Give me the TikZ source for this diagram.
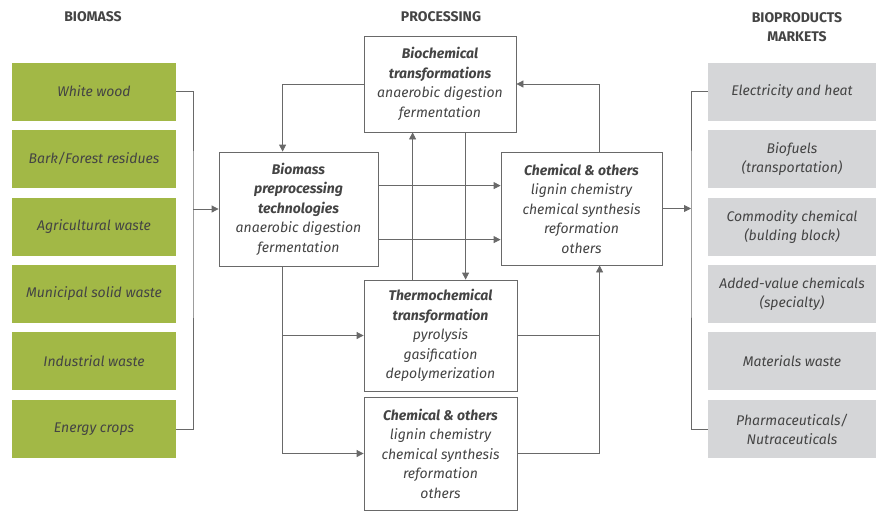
\documentclass[tikz,border=0pt]{standalone}
\usepackage{fontspec}
\setmainfont{Fira Sans}
\usepackage{tikz}
\usetikzlibrary{arrows.meta}
\definecolor{biogreen}{RGB}{162,184,70}
\definecolor{mktgray}{RGB}{213,214,216}
\definecolor{linegray}{RGB}{105,105,105}
\definecolor{txtgray}{RGB}{68,68,68}

\begin{document}
\begin{tikzpicture}[x=1pt,y=-1pt,
    srcbox/.style={fill=biogreen,minimum width=164pt,minimum height=58pt,align=center,text=txtgray,font=\fontsize{14}{19}\selectfont\itshape},
    mktbox/.style={fill=mktgray,minimum width=168pt,minimum height=58pt,align=center,text=txtgray,font=\fontsize{14}{19}\selectfont\itshape},
    procbox/.style={draw=linegray,thick,fill=white,align=center,text=txtgray,inner sep=2pt,font=\fontsize{14}{19.5}\selectfont\itshape},
    heading/.style={align=center,text=txtgray,font=\fontsize{14}{19}\selectfont\bfseries},
    arr/.style={draw=linegray,thick,-{Triangle[length=7pt,width=7pt]}},
    ln/.style={draw=linegray,thick}]
        \useasboundingbox (0,0) rectangle (876,512);
        % headings
        \draw (93,17) node (hbio) [heading] {BIOMASS};
        \draw (441,17) node (hproc) [heading] {PROCESSING};
        \draw (797,27) node (hmkt) [heading] {BIOPRODUCTS\\MARKETS};
        % biomass sources
        \draw (94,91.5) node (src1) [srcbox] {White wood};
        \draw (94,159) node (src2) [srcbox] {Bark/Forest residues};
        \draw (94,227) node (src3) [srcbox] {Agricultural waste};
        \draw (94,294) node (src4) [srcbox] {Municipal solid waste};
        \draw (94,361) node (src5) [srcbox] {Industrial waste};
        \draw (94,429) node (src6) [srcbox] {Energy crops};
        % markets
        \draw (792,91.5) node (mkt1) [mktbox] {Electricity and heat};
        \draw (792,159) node (mkt2) [mktbox] {Biofuels\\(transportation)};
        \draw (792,227) node (mkt3) [mktbox] {Commodity chemical\\(bulding block)};
        \draw (792,294) node (mkt4) [mktbox] {Added-value chemicals\\(specialty)};
        \draw (792,361) node (mkt5) [mktbox] {Materials waste};
        \draw (792,429) node (mkt6) [mktbox] {Pharmaceuticals/\\Nutraceuticals};
        % processing
        \draw (298.5,209) node (pre) [procbox,minimum width=159pt,minimum height=114pt] {\bfseries Biomass\\\bfseries preprocessing\\\bfseries technologies\\anaerobic digestion\\fermentation};
        \draw (440,84) node (bioc) [procbox,minimum width=152pt,minimum height=96pt] {\bfseries Biochemical\\\bfseries transformations\\anaerobic digestion\\fermentation};
        \draw (581.5,208.5) node (chemr) [procbox,minimum width=161pt,minimum height=113pt] {\bfseries Chemical \& others\\lignin chemistry\\chemical synthesis\\reformation\\others};
        \draw (440.5,335.5) node (thermo) [procbox,minimum width=153pt,minimum height=111pt] {\bfseries Thermochemical\\\bfseries transformation\\pyrolysis\\gasification\\depolymerization};
        \draw (440.5,453.5) node (chemb) [procbox,minimum width=153pt,minimum height=113pt] {\bfseries Chemical \& others\\lignin chemistry\\chemical synthesis\\reformation\\others};
        % connectors
        \coordinate (jin) at (193,209);
        \coordinate (jout) at (691,208.5);
        \draw[ln] (src1.east) -| (jin) |- (src6.east);
        \draw[arr] (jin) -- (pre.west);
        \draw[arr] (bioc.west) -| ([xshift=64]pre.north west);
        \draw[arr] ([xshift=99]chemr.north west) |- (bioc.east);
        \draw[arr] ([xshift=49]thermo.north west) -- ([xshift=49]bioc.south west);
        \draw[arr] ([xshift=102]bioc.south west) -- ([xshift=102]thermo.north west);
        \draw[arr] ([yshift=-34]pre.north east) -- ([yshift=-34]chemr.north west);
        \draw[arr] ([yshift=-88]pre.north east) -- ([yshift=-88]chemr.north west);
        \draw[arr] ([xshift=64]pre.south west) |- (thermo.west);
        \draw[arr] ([xshift=64]pre.south west) |- (chemb.west);
        \draw[ln] (thermo.east) -| ([xshift=99]chemr.south west);
        \draw[arr] (chemb.east) -| ([xshift=99]chemr.south west);
        \draw[arr] (chemr.east) -- (jout);
        \draw[ln] (mkt1.west) -| (jout) |- (mkt6.west);
    \end{tikzpicture}
\end{document}
